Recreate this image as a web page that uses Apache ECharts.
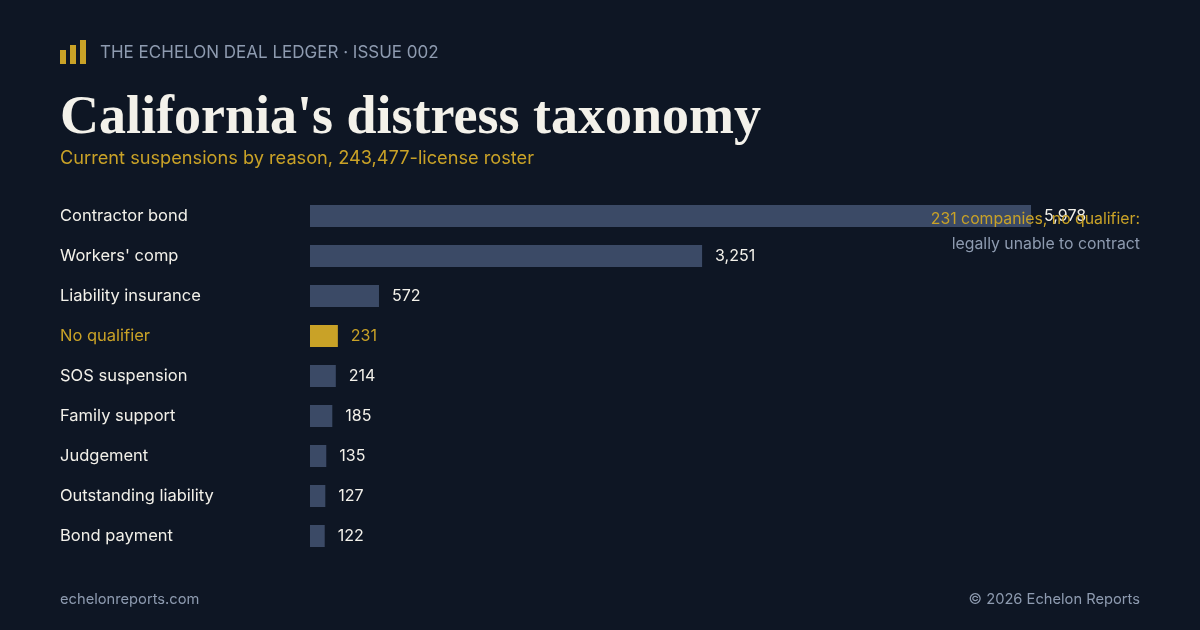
<!DOCTYPE html>
<html><head><meta charset="utf-8">
<script src="https://cdn.jsdelivr.net/npm/echarts@6/dist/echarts.min.js"></script>
<style>html,body{margin:0;background:#0e1624;}#c{width:1200px;height:630px;}</style>
</head><body><div id="c"></div>
<script>
const categories = ["Contractor bond","Workers' comp","Liability insurance","No qualifier","SOS suspension","Family support","Judgement","Outstanding liability","Bond payment"];
const values = [5978,3251,572,231,214,185,135,127,122];
const highlight = "No qualifier";
const GOLD = "#c9a227", BAR = "#3b4a66", TXT = "#f3f1ea", MUTED = "#8e9bb0";
const chart = echarts.init(document.getElementById('c'));
chart.setOption({
  backgroundColor: "#0e1624",
  animation: false,
  grid: {left: 310, right: 169, top: 196, bottom: 74},
  xAxis: {type: 'value', min: 0, max: 5978, show: false},
  yAxis: {type: 'category', inverse: true, data: categories,
    axisLine: {show: false}, axisTick: {show: false},
    axisLabel: {align: 'left', margin: 250, fontFamily: 'Inter', fontSize: 16.5, padding: [4, 0, 0, 0],
      color: (v) => v === highlight ? GOLD : TXT}},
  series: [{type: 'bar', barWidth: 22,
    data: values.map((v, i) => ({value: v, itemStyle: {color: categories[i] === highlight ? GOLD : BAR},
      label: {color: categories[i] === highlight ? GOLD : TXT}})),
    label: {show: true, position: 'right', distance: 13, fontFamily: 'Inter', fontSize: 16, padding: [2, 0, 0, 0],
      formatter: p => p.value.toLocaleString('en-US')}}],
  graphic: [
    {type: 'rect', left: 60, top: 50, shape: {width: 6, height: 14}, style: {fill: GOLD}},
    {type: 'rect', left: 70, top: 45, shape: {width: 6, height: 19}, style: {fill: GOLD}},
    {type: 'rect', left: 80, top: 40, shape: {width: 6, height: 24}, style: {fill: GOLD}},
    {type: 'text', left: 100, top: 44, style: {text: "THE ECHELON DEAL LEDGER · ISSUE 002", fill: MUTED, font: '17px Inter'}},
    {type: 'text', left: 60, top: 92, style: {text: "California's distress taxonomy", fill: TXT, font: 'bold 54px "Liberation Serif"'}},
    {type: 'text', left: 60, top: 150, style: {text: "Current suspensions by reason, 243,477-license roster", fill: GOLD, font: '18.2px Inter'}},
    {type: 'text', z: 100, right: 60, top: 211, style: {text: "231 companies, no qualifier:", fill: GOLD, font: '15.8px Inter', align: 'right'}},
    {type: 'text', z: 100, right: 60, top: 236, style: {text: "legally unable to contract", fill: MUTED, font: '15.8px Inter', align: 'right'}},
    {type: 'text', left: 60, top: 592, style: {text: "echelonreports.com", fill: MUTED, font: '14.7px Inter'}},
    {type: 'text', right: 60, top: 592, style: {text: "© 2026 Echelon Reports", fill: MUTED, font: '14.7px Inter', align: 'right'}}
  ]
});
</script></body></html>
